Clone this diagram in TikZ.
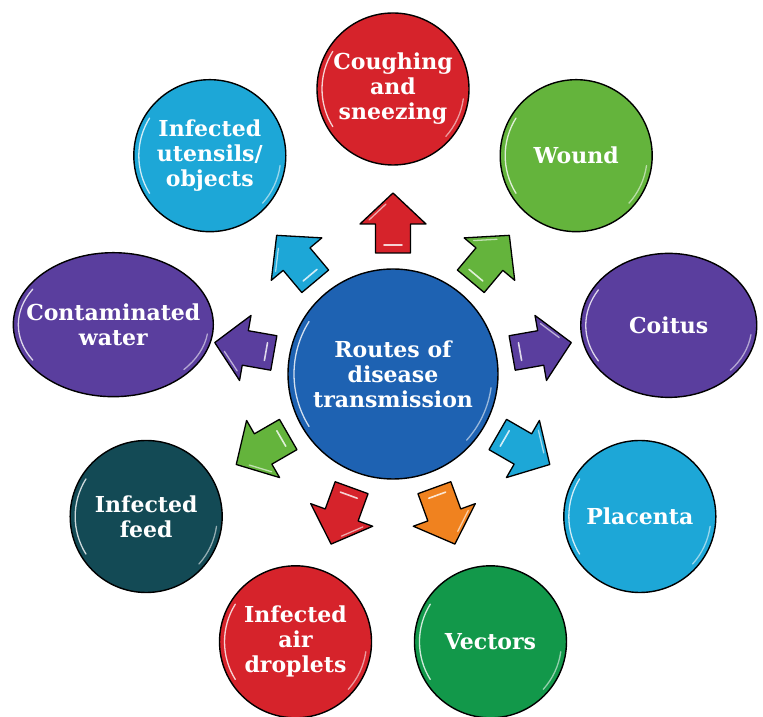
\documentclass[tikz,border=0pt]{standalone}
\usepackage{fontspec}
\setmainfont{DejaVu Serif}
\usetikzlibrary{shapes.geometric}

\definecolor{cRed}{HTML}{D6232B}
\definecolor{cGreen}{HTML}{64B43C}
\definecolor{cPurple}{HTML}{5A3E9E}
\definecolor{cCyan}{HTML}{1DA7D7}
\definecolor{cDeepGreen}{HTML}{12984A}
\definecolor{cTeal}{HTML}{134A55}
\definecolor{cBlue}{HTML}{1E62B2}
\definecolor{cOrange}{HTML}{F0821F}

% glossy highlight arcs just inside a round node
\newcommand\glossarc[3]{%
  \draw[gloss] ([shift={(148:#2 and #3)}]#1.center)
    arc[start angle=148, end angle=212, x radius=#2, y radius=#3];
  \draw[gloss, opacity=.55] ([shift={(-42:#2 and #3)}]#1.center)
    arc[start angle=-42, end angle=-8, x radius=#2, y radius=#3];
}

\tikzset{
  disc/.style={circle, draw=black, line width=1.4pt, inner sep=0pt, minimum size=152pt},
  oval/.style={ellipse, draw=black, line width=1.4pt, inner sep=0pt, minimum height=144pt},
  caption/.style={text=white, align=center, inner sep=0pt,
    font=\bfseries\fontsize{22}{25}\selectfont},
  gloss/.style={white, opacity=.8, line width=1.3pt, line cap=round},
  pics/barrow/.style={code={
    \path[draw=black, line width=1.3pt, line join=round, fill=#1]
      (-29,-17.5) -- (0,-17.5) -- (0,-33) -- (31,0) -- (0,33) -- (0,17.5)
      -- (-29,17.5) -- cycle;
    \draw[gloss, line width=1.6pt] (-21,-9) -- (-21,9);
    \draw[gloss, opacity=.6] (4,24) -- (20,7);
  }},
}

\begin{document}
\begin{tikzpicture}[x=1pt, y=1pt]
\useasboundingbox (0,0) rectangle (763,717);
\fill[white] (0,0) rectangle (763,717);
\coordinate (C) at (393,343);

% outer routes, every 40 degrees round the hub
\node[disc, fill=cRed] (cough) at ([shift={(90:285)}]C) {};
\node[disc, fill=cGreen] (wound) at ([shift={(50:285)}]C) {};
\node[oval, fill=cPurple, minimum width=176pt] (coitus) at ([shift={(10:280)}]C) {};
\node[disc, fill=cCyan] (placenta) at ([shift={(-30:285)}]C) {};
\node[disc, fill=cDeepGreen] (vectors) at ([shift={(-70:285)}]C) {};
\node[disc, fill=cRed] (droplets) at ([shift={(-110:285)}]C) {};
\node[disc, fill=cTeal] (feed) at ([shift={(-150:285)}]C) {};
\node[oval, fill=cPurple, minimum width=200pt] (water) at ([shift={(170:284)}]C) {};
\node[disc, fill=cCyan] (utensils) at ([shift={(130:285)}]C) {};

% hub
\node[disc, fill=cBlue, minimum size=210pt] (hub) at (C) {};

\glossarc{cough}{71}{71}
\glossarc{wound}{71}{71}
\glossarc{coitus}{83}{67}
\glossarc{placenta}{71}{71}
\glossarc{vectors}{71}{71}
\glossarc{droplets}{71}{71}
\glossarc{feed}{71}{71}
\glossarc{water}{95}{67}
\glossarc{utensils}{71}{71}
\glossarc{hub}{99}{99}

% labels
\node[caption] (cough-t) at (cough) {Coughing\\and\\sneezing};
\node[caption] (wound-t) at (wound) {Wound};
\node[caption] (coitus-t) at (coitus) {Coitus};
\node[caption] (placenta-t) at (placenta) {Placenta};
\node[caption] (vectors-t) at (vectors) {Vectors};
\node[caption] (droplets-t) at (droplets) {Infected\\air\\droplets};
\node[caption] (feed-t) at (feed) {Infected\\feed};
\node[caption] (water-t) at (water) {Contaminated\\water};
\node[caption] (utensils-t) at (utensils) {Infected\\utensils/\\objects};
\node[caption] (hub-t) at (hub) {Routes of\\disease\\transmission};

% block arrows from the hub towards each route
\foreach \ang/\col in {90/cRed, 50/cGreen, 10/cPurple, -30/cCyan,
                       -70/cOrange, -110/cRed, -150/cGreen, 170/cPurple,
                       130/cCyan}{
  \pic[rotate=\ang] at ([shift={(\ang:150)}]C) {barrow=\col};
}
\end{tikzpicture}
\end{document}
